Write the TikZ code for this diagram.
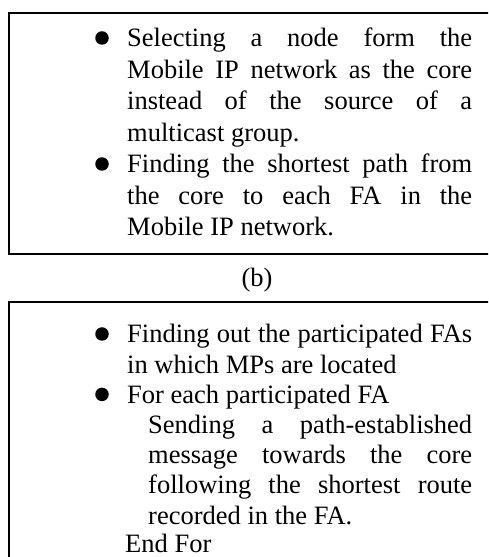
\documentclass[tikz,border=0pt]{standalone}
\usepackage{fontspec}
\setmainfont{Liberation Serif}
\usetikzlibrary{positioning}
\newcommand{\jline}[2]{\makebox[#1][s]{#2}}
\tikzset{
  frame/.style = {draw, rectangle, line width=1.6pt, inner sep=0pt, anchor=north west},
  dot/.style   = {circle, fill, inner sep=0pt, minimum size=13.5pt},
  ln/.style    = {anchor=base west, inner sep=0pt, font=\fontsize{26.5pt}{30pt}\selectfont},
}
\begin{document}
\begin{tikzpicture}[x=1pt, y=1pt]
  \useasboundingbox (0,0) rectangle (488,557);
  \clip (0,0) rectangle (488,557);
  % the two frames run past the right and bottom edges
  \node[frame, minimum width=520pt, minimum height=241pt] (boxB) at (8,545) {};
  \node[frame, minimum width=520pt, minimum height=290pt] (boxC) at (8,256) {};
  % upper box
  \node[dot] (dotB1) at (102,519) {};
  \node[ln] (b1) at (127,510)   {\jline{345pt}{Selecting a node form the}};
  \node[ln] (b2) at (127,478.5) {\jline{345pt}{Mobile IP network as the core}};
  \node[ln] (b3) at (127,447)   {\jline{345pt}{instead of the source of a}};
  \node[ln] (b4) at (127,415.5) {multicast group.};
  \node[dot] (dotB2) at (102,393) {};
  \node[ln] (b5) at (127,384)   {\jline{345pt}{Finding the shortest path from}};
  \node[ln] (b6) at (127,352.5) {\jline{345pt}{the core to each FA in the}};
  \node[ln] (b7) at (127,321)   {Mobile IP network.};
  \node[ln, anchor=base] (capB) at (257,270) {(b)};
  % lower box
  \node[dot] (dotC1) at (102,223) {};
  \node[ln] (c1) at (127,214)   {\jline{345pt}{Finding out the participated FAs}};
  \node[ln] (c2) at (127,183.8) {in which MPs are located};
  \node[dot] (dotC2) at (102,162.6) {};
  \node[ln] (c3) at (127,153.6) {For each participated FA};
  \node[ln] (c4) at (148,123.4) {\jline{324pt}{Sending a path-established}};
  \node[ln] (c5) at (148,93.2)  {\jline{324pt}{message towards the core}};
  \node[ln] (c6) at (148,63)    {\jline{324pt}{following the shortest route}};
  \node[ln] (c7) at (148,32.8)  {recorded in the FA.};
  \node[ln] (c8) at (125,4.5)   {End For};
\end{tikzpicture}
\end{document}
